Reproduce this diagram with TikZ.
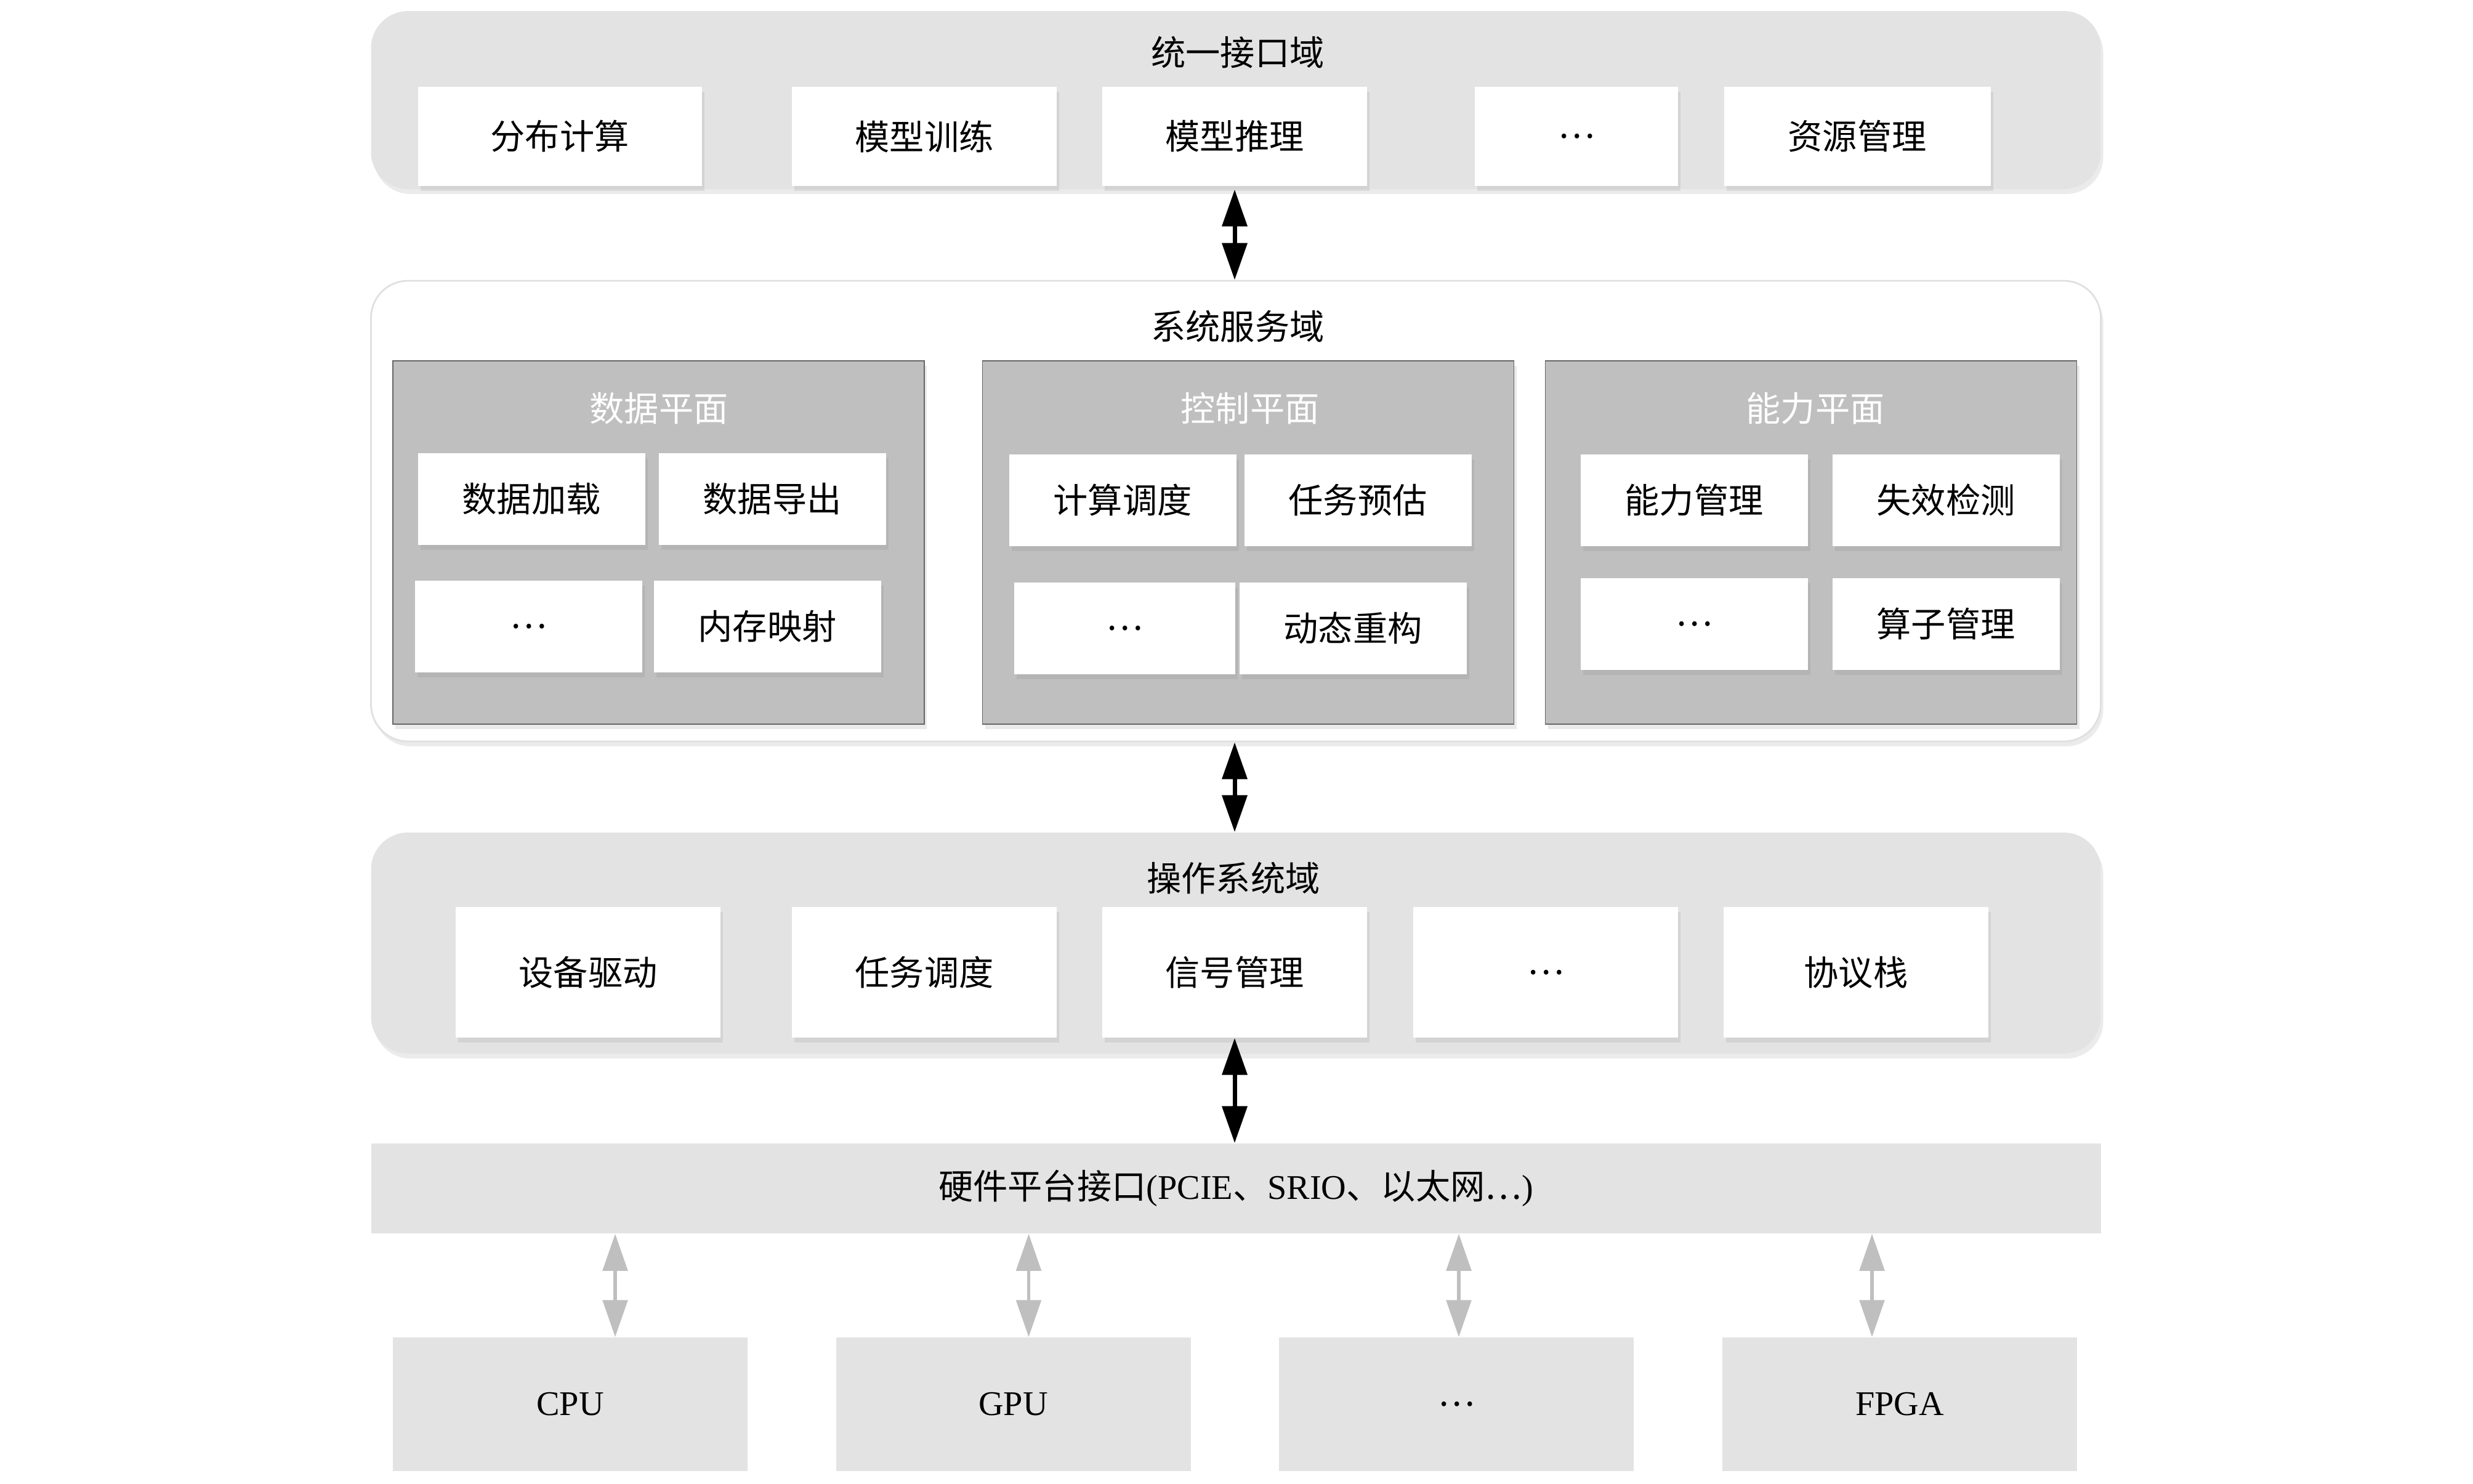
\documentclass[tikz,border=0pt]{standalone}
\usepackage{fontspec}
\setmainfont{Liberation Serif}
\newfontfamily\cjk{Noto Sans CJK SC}
\usetikzlibrary{arrows.meta,shadows,positioning}

\definecolor{domgray}{HTML}{E3E3E3}
\definecolor{planegray}{HTML}{BFBFBF}

\tikzset{
  every node/.style={inner sep=0pt, font=\fontsize{16pt}{19pt}\selectfont\cjk},
  softshadow/.style={drop shadow={opacity=0.16, shadow xshift=0.04cm, shadow yshift=-0.08cm}},
  layerbox/.style={fill=domgray, rounded corners=0.6cm, minimum width=28.09cm, softshadow},
  unitbox/.style={fill=white, minimum height=1.61cm, softshadow},
  plane/.style={fill=planegray, draw=black!60, line width=0.5pt, minimum width=8.63cm,
                minimum height=5.9cm, softshadow},
  planetitle/.style={text=white},
  funcbox/.style={fill=white, minimum width=3.69cm, minimum height=1.49cm, softshadow},
  chip/.style={fill=domgray, minimum width=5.76cm, minimum height=2.17cm,
               font=\fontsize{16pt}{19pt}\selectfont},
  link/.style={{Triangle[length=6mm,width=4mm]}-{Triangle[length=6mm,width=4mm]}, line width=2pt},
  buslink/.style={link, draw=planegray, line width=1.6pt}
}

\begin{document}
\begin{tikzpicture}
\useasboundingbox (0,0) rectangle (40.16,-24.09);

% unified interface domain
\node[layerbox, minimum height=2.89cm] (top) at (20.07,-1.625) {};
\node (toptitle) at (20.10,-0.85) {统一接口域};
\node[unitbox, minimum width=4.61cm] (t1) at (9.09,-2.215)  {分布计算};
\node[unitbox, minimum width=4.30cm] (t2) at (15.01,-2.215) {模型训练};
\node[unitbox, minimum width=4.30cm] (t3) at (20.05,-2.215) {模型推理};
\node[unitbox, minimum width=3.30cm] (t4) at (25.60,-2.215) {…};
\node[unitbox, minimum width=4.33cm] (t5) at (30.16,-2.215) {资源管理};

% system service domain
\node[layerbox, fill=white, draw=black!12, line width=0.8pt, minimum height=7.48cm] (svc) at (20.07,-8.30) {};
\node (svctitle) at (20.10,-5.30) {系统服务域};

\node[plane] (data) at (10.695,-8.81) {};
\node[plane] (ctrl) at (20.27,-8.81)  {};
\node[plane] (cap)  at (29.41,-8.81)  {};
\node[planetitle] (datatitle) at (10.70,-6.63) {数据平面};
\node[planetitle] (ctrltitle) at (20.30,-6.63) {控制平面};
\node[planetitle] (captitle)  at (29.48,-6.63) {能力平面};

\node[funcbox] (d1) at (8.63,-8.10)  {数据加载};
\node[funcbox] (d2) at (12.54,-8.10) {数据导出};
\node[funcbox] (d3) at (8.58,-10.17) {…};
\node[funcbox] (d4) at (12.46,-10.17) {内存映射};

\node[funcbox] (c1) at (18.23,-8.12) {计算调度};
\node[funcbox] (c2) at (22.05,-8.12) {任务预估};
\node[funcbox, minimum width=3.59cm] (c3) at (18.26,-10.20) {…};
\node[funcbox] (c4) at (21.97,-10.20) {动态重构};

\node[funcbox] (k1) at (27.51,-8.12)  {能力管理};
\node[funcbox] (k2) at (31.60,-8.12)  {失效检测};
\node[funcbox] (k3) at (27.51,-10.13) {…};
\node[funcbox] (k4) at (31.60,-10.13) {算子管理};

% operating system domain
\node[layerbox, minimum height=3.59cm] (os) at (20.07,-15.315) {};
\node (ostitle) at (20.03,-14.26) {操作系统域};
\node[unitbox, minimum width=4.30cm, minimum height=2.12cm] (o1) at (9.55,-15.79)  {设备驱动};
\node[unitbox, minimum width=4.30cm, minimum height=2.12cm] (o2) at (15.01,-15.79) {任务调度};
\node[unitbox, minimum width=4.30cm, minimum height=2.12cm] (o3) at (20.05,-15.79) {信号管理};
\node[unitbox, minimum width=4.30cm, minimum height=2.12cm] (o4) at (25.10,-15.79) {…};
\node[unitbox, minimum width=4.30cm, minimum height=2.12cm] (o5) at (30.14,-15.79) {协议栈};

% hardware interface
\node[fill=domgray, minimum width=28.09cm, minimum height=1.46cm, font=\fontsize{16pt}{19pt}\selectfont] (hw) at (20.07,-19.30)
  {{\cjk 硬件平台接口}(PCIE{\cjk 、}SRIO{\cjk 、以太网…})};

\node[chip] (cpu)  at (9.26,-22.805)  {CPU};
\node[chip] (gpu)  at (16.455,-22.805) {GPU};
\node[chip] (etc)  at (23.65,-22.805) {\cjk …};
\node[chip] (fpga) at (30.85,-22.805) {FPGA};

\draw[link] (t3.south |- top.south) -- (t3.south |- svc.north);
\draw[link] (t3.south |- svc.south) -- (t3.south |- os.north);
\draw[link] (o3.south) -- (o3.south |- hw.north);

\foreach \c/\dx in {cpu/7.3mm, gpu/2.5mm, etc/0.4mm, fpga/-4.5mm}{
  \coordinate (\c top) at ([xshift=\dx]\c.north);
  \draw[buslink] (hw.south -| \c top) -- (\c top);
}
\end{tikzpicture}
\end{document}
